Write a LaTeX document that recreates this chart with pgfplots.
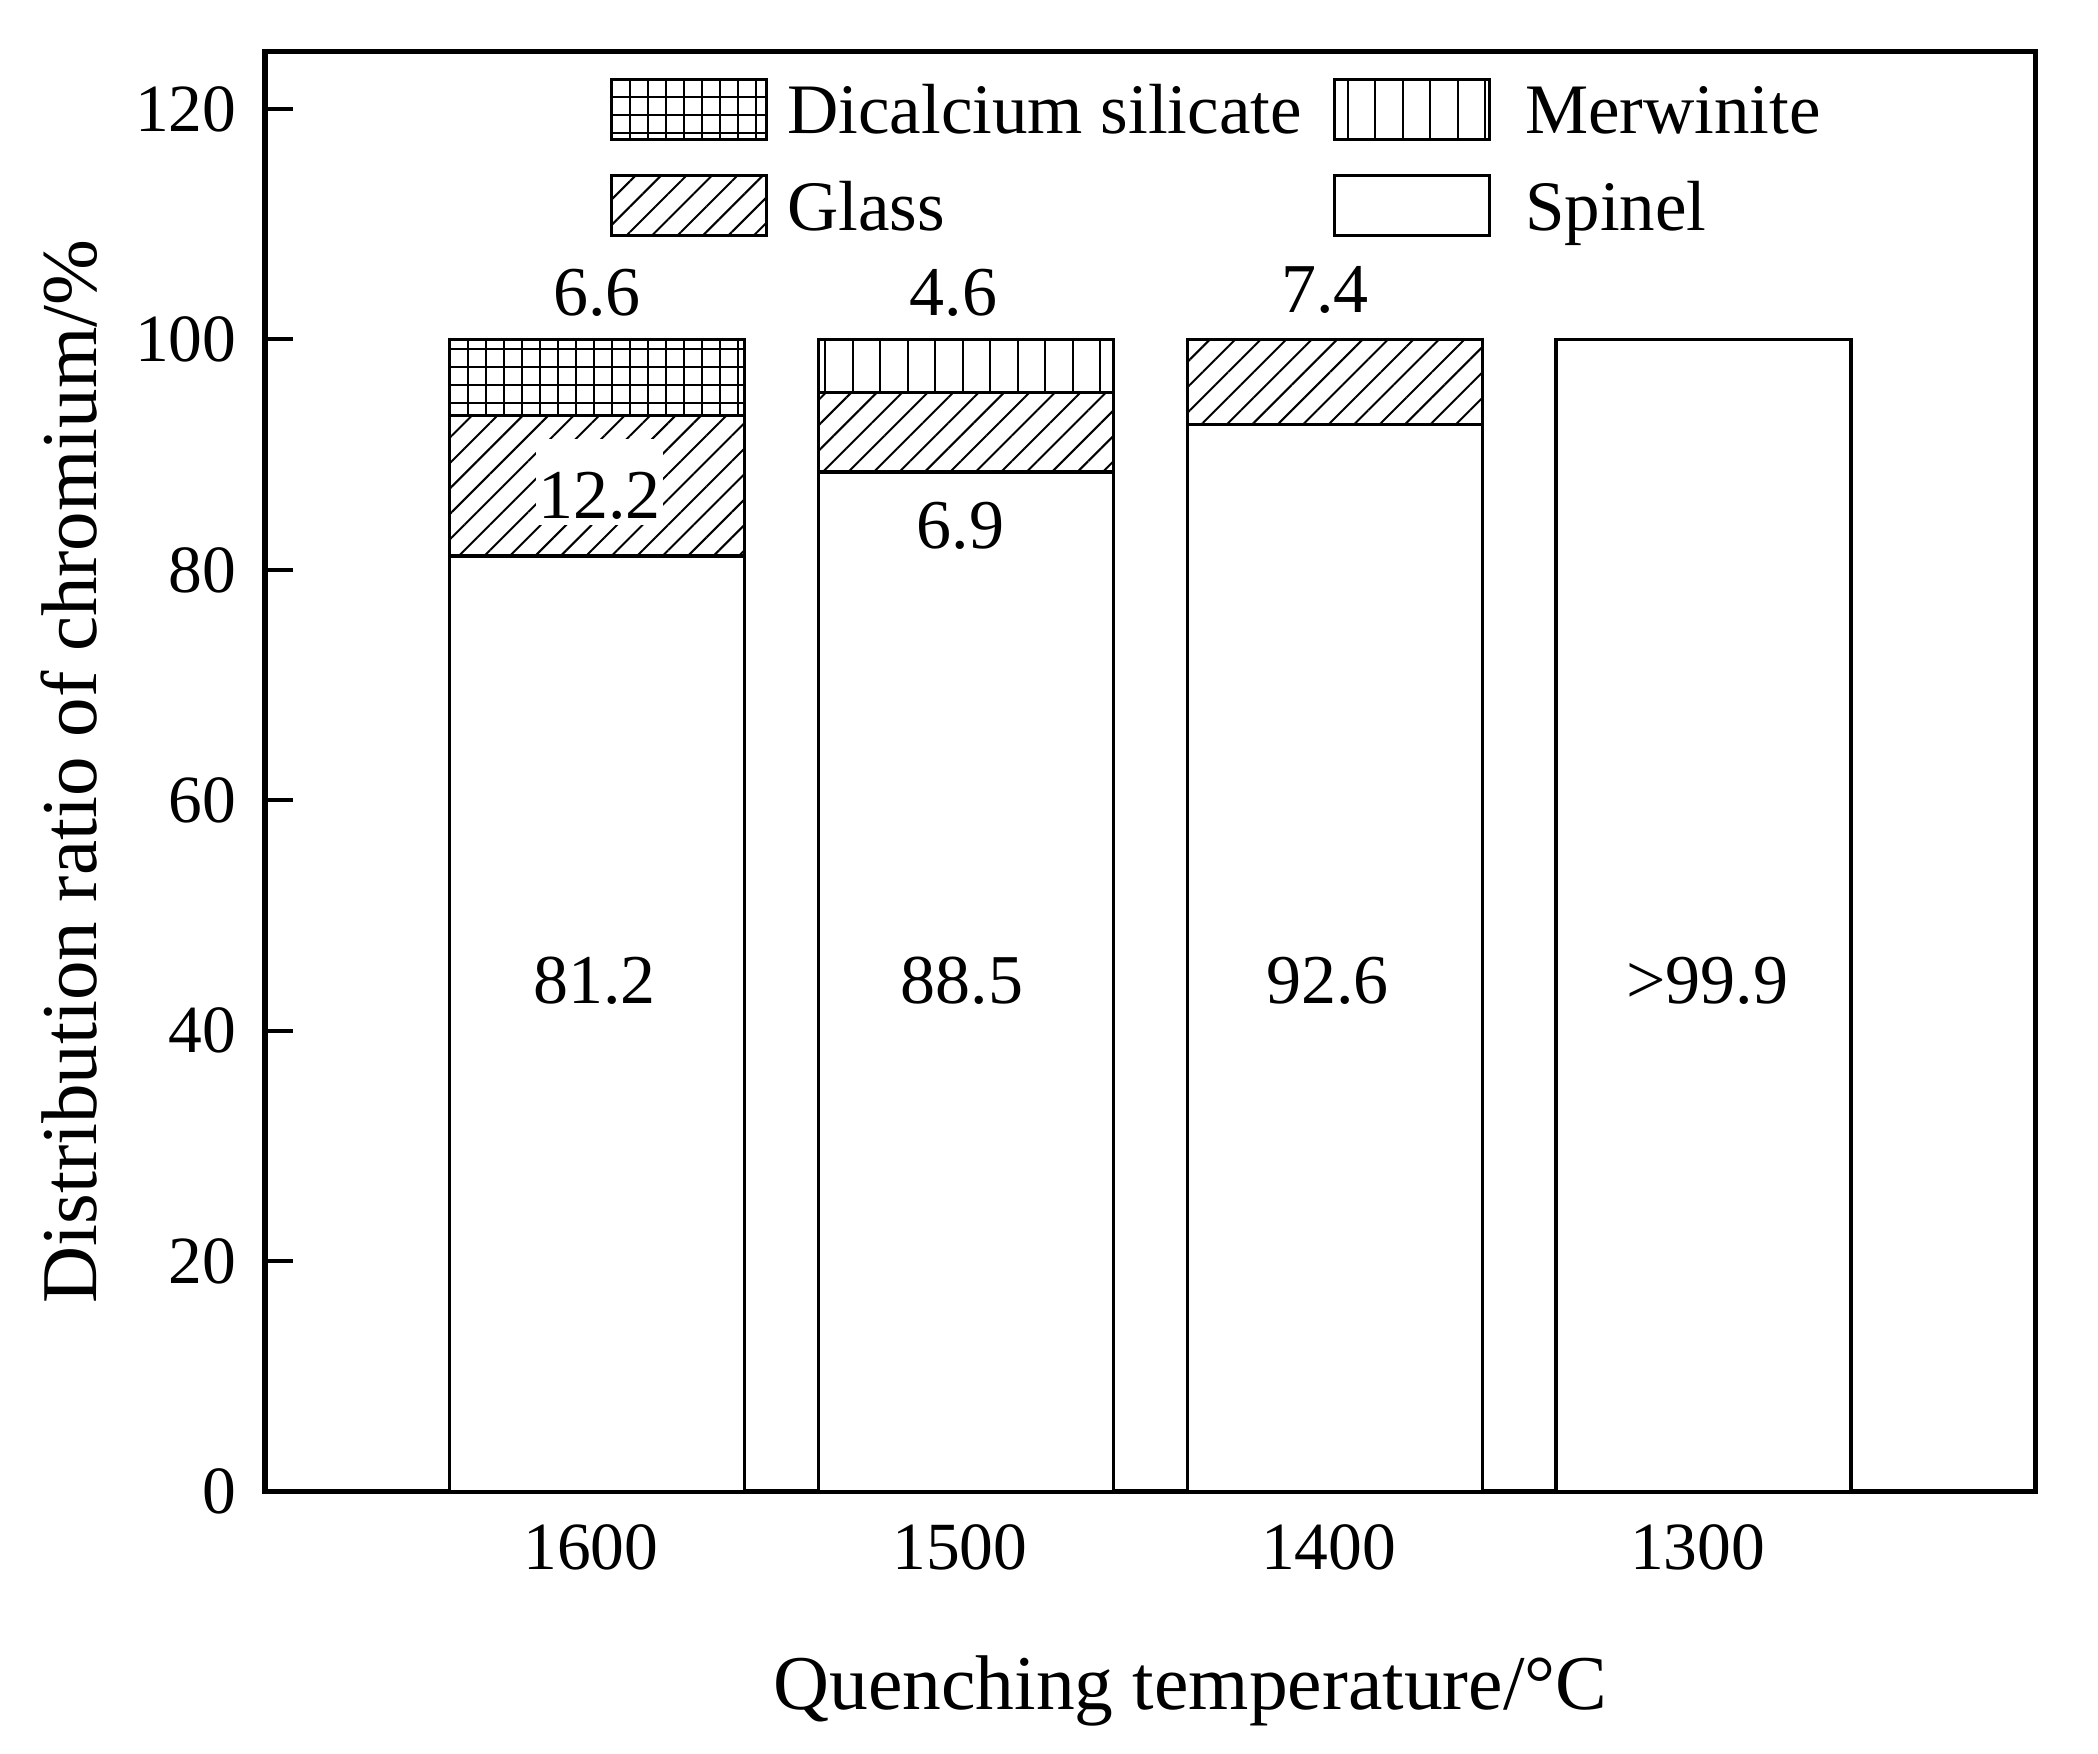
\documentclass[border=0pt]{standalone}
\usepackage{pgfplots}
\pgfplotsset{compat=1.18}
\usepackage{fontspec}
\setmainfont{Liberation Serif}
\usetikzlibrary{patterns.meta}

\begin{document}
\begin{tikzpicture}
\begin{axis}[
  scale only axis,
  width=354.1pt, height=288pt,
  xmin=-0.9, xmax=3.9, ymin=0, ymax=125,
  ybar stacked, bar width=0.8,
  xtick={0,1,2,3}, xticklabels={1600,1500,1400,1300},
  ytick={0,20,...,120},
  ytick pos=left, tick align=inside,
  major tick length=5.5pt,
  xtick style={draw=none},
  ytick style={line width=0.8pt, black},
  axis line style={line width=1.1pt},
  /pgf/number format/assume math mode=true,
  tick label style={font=\fontsize{13.5}{13.5}\selectfont},
  xticklabel style={yshift=-3pt, xshift=-1.2pt},
  yticklabel style={xshift=-2.2pt},
  xlabel={Quenching temperature/°C},
  ylabel={Distribution ratio of chromium/\%},
  every axis x label/.style={at={(axis description cs:0.5227,0)}, anchor=base, yshift=-43.5pt, font=\fontsize{15.5}{15.5}\selectfont},
  every axis y label/.style={at={(axis description cs:-0.0952,0.5)}, anchor=base, rotate=90, font=\fontsize{15.8}{15.8}\selectfont},
  legend columns=2, reverse legend, legend cell align=left,
  legend style={at={(axis description cs:0.1949,0.9817)}, anchor=north west, draw=none, fill=none,
    inner sep=0pt, outer sep=0pt, row sep=6.6pt, font=\fontsize{14.2}{14.2}\selectfont,
    nodes={inner sep=0pt, text height=10pt, text depth=0pt},
    /tikz/every odd column/.append style={column sep=3.8pt},
    /tikz/every even column/.append style={column sep=6.2pt}},
  legend image code/.code={\draw[#1] (0pt,-6.1pt) rectangle (31pt,5.9pt);},
  after end axis/.code={
    \node[font=\fontsize{14}{14}\selectfont, anchor=base] at (axis cs:0,102.1) {6.6};
    \node[font=\fontsize{14}{14}\selectfont, anchor=base] at (axis cs:0.966,102.1) {4.6};
    \node[font=\fontsize{14}{14}\selectfont, anchor=base] at (axis cs:1.974,102.3) {7.4};
    \node[font=\fontsize{14}{14}\selectfont, anchor=base, fill=white, inner xsep=0.5pt, inner ysep=0pt, text height=16pt, text depth=1.2pt] at (axis cs:0.007,84.45) {12.2};
    \node[font=\fontsize{14}{14}\selectfont, anchor=base] at (axis cs:0.986,81.9) {6.9};
    \node[font=\fontsize{14}{14}\selectfont, anchor=base] at (axis cs:-0.007,42.4) {81.2};
    \node[font=\fontsize{14}{14}\selectfont, anchor=base] at (axis cs:0.99,42.4) {88.5};
    \node[font=\fontsize{14}{14}\selectfont, anchor=base] at (axis cs:1.98,42.4) {92.6};
    \node[font=\fontsize{14}{14}\selectfont, anchor=base] at (axis cs:3.01,42.4) {>99.9};
  },
]
% Spinel
\addplot[draw=black, line width=0.65pt, fill=white] coordinates {(0,81.2) (1,88.5) (2,92.6) (3,100)};
% Glass
\addplot[draw=black, line width=0.65pt, pattern={Lines[angle=45,distance=3.6pt,line width=0.4pt]}] coordinates {(0,12.2) (1,6.9) (2,7.4) (3,0)};
% Merwinite
\addplot[draw=black, line width=0.65pt, pattern={Lines[angle=90,distance=5.5pt,line width=0.4pt]}] coordinates {(0,0) (1,4.6) (2,0) (3,0)};
% Dicalcium silicate
\addplot[draw=black, line width=0.65pt, pattern={Hatch[angle=0,distance=3.6pt,line width=0.45pt]}] coordinates {(0,6.6) (1,0) (2,0) (3,0)};
\legend{\hspace*{3pt}Spinel, Glass, \hspace*{3pt}Merwinite, Dicalcium silicate}
\end{axis}
\pgfresetboundingbox
\path[use as bounding box] (-53pt,-52.3pt) rectangle (366.6pt,298.3pt);
\end{tikzpicture}
\end{document}
